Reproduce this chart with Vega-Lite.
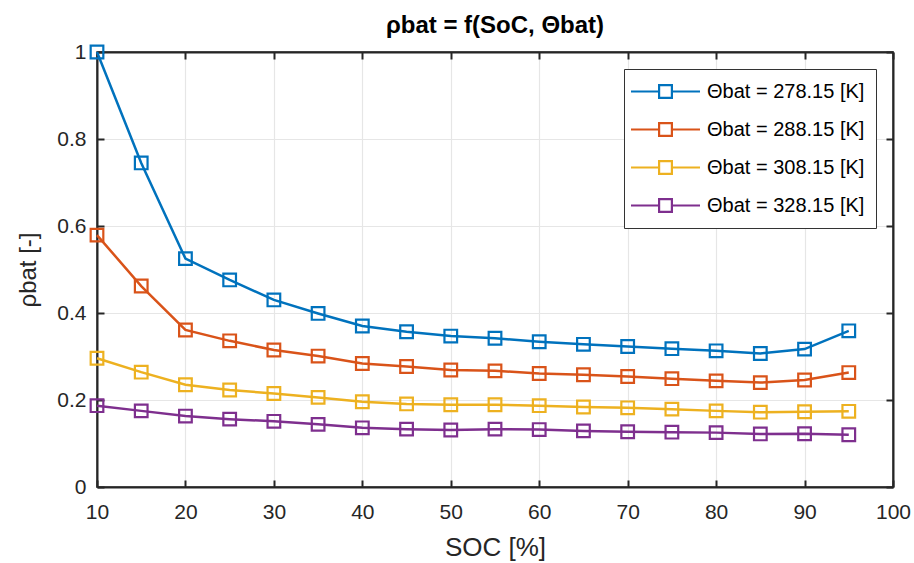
{
  "$schema": "https://vega.github.io/schema/vega-lite/v6.json",
  "width": 796,
  "height": 435,
  "autosize": "none",
  "padding": {"left": 97, "top": 52, "right": 21, "bottom": 76},
  "background": "white",
  "title": {"text": "ρbat = f(SoC, Θbat)", "fontSize": 24, "fontWeight": "bold", "font": "Liberation Sans", "color": "#000000", "offset": 3, "anchor": "middle"},
  "data": {"values": [
    {"soc": 10, "rho": 1.0, "theta": "278.15"},
    {"soc": 15, "rho": 0.745, "theta": "278.15"},
    {"soc": 20, "rho": 0.525, "theta": "278.15"},
    {"soc": 25, "rho": 0.476, "theta": "278.15"},
    {"soc": 30, "rho": 0.43, "theta": "278.15"},
    {"soc": 35, "rho": 0.399, "theta": "278.15"},
    {"soc": 40, "rho": 0.37, "theta": "278.15"},
    {"soc": 45, "rho": 0.357, "theta": "278.15"},
    {"soc": 50, "rho": 0.347, "theta": "278.15"},
    {"soc": 55, "rho": 0.342, "theta": "278.15"},
    {"soc": 60, "rho": 0.334, "theta": "278.15"},
    {"soc": 65, "rho": 0.328, "theta": "278.15"},
    {"soc": 70, "rho": 0.323, "theta": "278.15"},
    {"soc": 75, "rho": 0.318, "theta": "278.15"},
    {"soc": 80, "rho": 0.313, "theta": "278.15"},
    {"soc": 85, "rho": 0.307, "theta": "278.15"},
    {"soc": 90, "rho": 0.317, "theta": "278.15"},
    {"soc": 95, "rho": 0.359, "theta": "278.15"},
    {"soc": 10, "rho": 0.579, "theta": "288.15"},
    {"soc": 15, "rho": 0.462, "theta": "288.15"},
    {"soc": 20, "rho": 0.361, "theta": "288.15"},
    {"soc": 25, "rho": 0.336, "theta": "288.15"},
    {"soc": 30, "rho": 0.315, "theta": "288.15"},
    {"soc": 35, "rho": 0.301, "theta": "288.15"},
    {"soc": 40, "rho": 0.284, "theta": "288.15"},
    {"soc": 45, "rho": 0.277, "theta": "288.15"},
    {"soc": 50, "rho": 0.269, "theta": "288.15"},
    {"soc": 55, "rho": 0.267, "theta": "288.15"},
    {"soc": 60, "rho": 0.261, "theta": "288.15"},
    {"soc": 65, "rho": 0.258, "theta": "288.15"},
    {"soc": 70, "rho": 0.254, "theta": "288.15"},
    {"soc": 75, "rho": 0.249, "theta": "288.15"},
    {"soc": 80, "rho": 0.244, "theta": "288.15"},
    {"soc": 85, "rho": 0.24, "theta": "288.15"},
    {"soc": 90, "rho": 0.246, "theta": "288.15"},
    {"soc": 95, "rho": 0.263, "theta": "288.15"},
    {"soc": 10, "rho": 0.296, "theta": "308.15"},
    {"soc": 15, "rho": 0.264, "theta": "308.15"},
    {"soc": 20, "rho": 0.235, "theta": "308.15"},
    {"soc": 25, "rho": 0.223, "theta": "308.15"},
    {"soc": 30, "rho": 0.215, "theta": "308.15"},
    {"soc": 35, "rho": 0.206, "theta": "308.15"},
    {"soc": 40, "rho": 0.196, "theta": "308.15"},
    {"soc": 45, "rho": 0.191, "theta": "308.15"},
    {"soc": 50, "rho": 0.189, "theta": "308.15"},
    {"soc": 55, "rho": 0.189, "theta": "308.15"},
    {"soc": 60, "rho": 0.187, "theta": "308.15"},
    {"soc": 65, "rho": 0.184, "theta": "308.15"},
    {"soc": 70, "rho": 0.182, "theta": "308.15"},
    {"soc": 75, "rho": 0.179, "theta": "308.15"},
    {"soc": 80, "rho": 0.175, "theta": "308.15"},
    {"soc": 85, "rho": 0.172, "theta": "308.15"},
    {"soc": 90, "rho": 0.173, "theta": "308.15"},
    {"soc": 95, "rho": 0.174, "theta": "308.15"},
    {"soc": 10, "rho": 0.187, "theta": "328.15"},
    {"soc": 15, "rho": 0.175, "theta": "328.15"},
    {"soc": 20, "rho": 0.163, "theta": "328.15"},
    {"soc": 25, "rho": 0.156, "theta": "328.15"},
    {"soc": 30, "rho": 0.151, "theta": "328.15"},
    {"soc": 35, "rho": 0.144, "theta": "328.15"},
    {"soc": 40, "rho": 0.136, "theta": "328.15"},
    {"soc": 45, "rho": 0.133, "theta": "328.15"},
    {"soc": 50, "rho": 0.131, "theta": "328.15"},
    {"soc": 55, "rho": 0.133, "theta": "328.15"},
    {"soc": 60, "rho": 0.132, "theta": "328.15"},
    {"soc": 65, "rho": 0.129, "theta": "328.15"},
    {"soc": 70, "rho": 0.127, "theta": "328.15"},
    {"soc": 75, "rho": 0.126, "theta": "328.15"},
    {"soc": 80, "rho": 0.125, "theta": "328.15"},
    {"soc": 85, "rho": 0.122, "theta": "328.15"},
    {"soc": 90, "rho": 0.1225, "theta": "328.15"},
    {"soc": 95, "rho": 0.12, "theta": "328.15"}
  ]},
  "layer": [
    {
      "mark": {"type": "line", "strokeWidth": 2.5, "clip": false},
      "encoding": {
        "x": {"field": "soc", "type": "quantitative", "scale": {"domain": [10, 100], "nice": false, "zero": false},
          "axis": {"orient": "bottom", "title": "SOC [%]", "titleFontSize": 26, "values": [10, 20, 30, 40, 50, 60, 70, 80, 90, 100], "grid": true, "tickSize": -7, "labelPadding": 21, "titlePadding": 12, "labelFlush": false, "format": "d"}},
        "y": {"field": "rho", "type": "quantitative", "scale": {"domain": [0, 1], "nice": false},
          "axis": {"orient": "left", "title": "ρbat [-]", "titleFontSize": 24, "values": [0, 0.2, 0.4, 0.6, 0.8, 1], "grid": true, "tickSize": -7, "labelPadding": 18, "titlePadding": 16, "labelFlush": false, "format": "~g"}},
        "color": {"field": "theta", "type": "nominal",
          "scale": {"domain": ["278.15", "288.15", "308.15", "328.15"], "range": ["#0072BD", "#D95319", "#EDB120", "#7E2F8E"]},
          "legend": {"title": null, "orient": "top-right", "offset": 17,
            "labelExpr": "'Θbat = ' + datum.label + ' [K]'",
            "symbolType": "M-3.45,0H-0.64M0.64,0H3.45M-0.64,-0.64H0.64V0.64H-0.64Z",
            "symbolSize": 400, "symbolStrokeWidth": 2.2, "symbolFillColor": "transparent", "symbolOffset": 19, "labelOffset": 30}}
      }
    },
    {
      "mark": {"type": "point", "shape": "square", "filled": false, "size": 160, "strokeWidth": 2.2, "opacity": 1, "clip": false},
      "encoding": {
        "x": {"field": "soc", "type": "quantitative", "axis": null},
        "y": {"field": "rho", "type": "quantitative", "axis": null},
        "color": {"field": "theta", "type": "nominal"}
      }
    },
    {
      "mark": {"type": "point", "opacity": 0},
      "encoding": {
        "x": {"field": "soc", "type": "quantitative",
          "axis": {"orient": "top", "title": null, "labels": false, "grid": false, "values": [10, 20, 30, 40, 50, 60, 70, 80, 90, 100], "tickSize": -7}},
        "y": {"field": "rho", "type": "quantitative",
          "axis": {"orient": "right", "title": null, "labels": false, "grid": false, "values": [0, 0.2, 0.4, 0.6, 0.8, 1], "tickSize": -7}}
      }
    }
  ],
  "resolve": {"axis": {"x": "independent", "y": "independent"}},
  "config": {
    "font": "Liberation Sans",
    "view": {"stroke": "#262626", "strokeWidth": 1.5},
    "axis": {
      "domainColor": "#262626", "domainWidth": 2, "tickColor": "#262626", "tickWidth": 2,
      "gridColor": "#e6e6e6", "gridWidth": 1.2,
      "labelFont": "Liberation Sans", "labelFontSize": 21, "labelColor": "#262626",
      "titleFont": "Liberation Sans", "titleFontWeight": "normal", "titleColor": "#262626"
    },
    "legend": {
      "labelFont": "Liberation Sans", "labelFontSize": 20, "labelColor": "#000000", "labelLimit": 300,
      "strokeColor": "#333333", "fillColor": "white", "padding": 11, "rowPadding": 15
    }
  }
}
